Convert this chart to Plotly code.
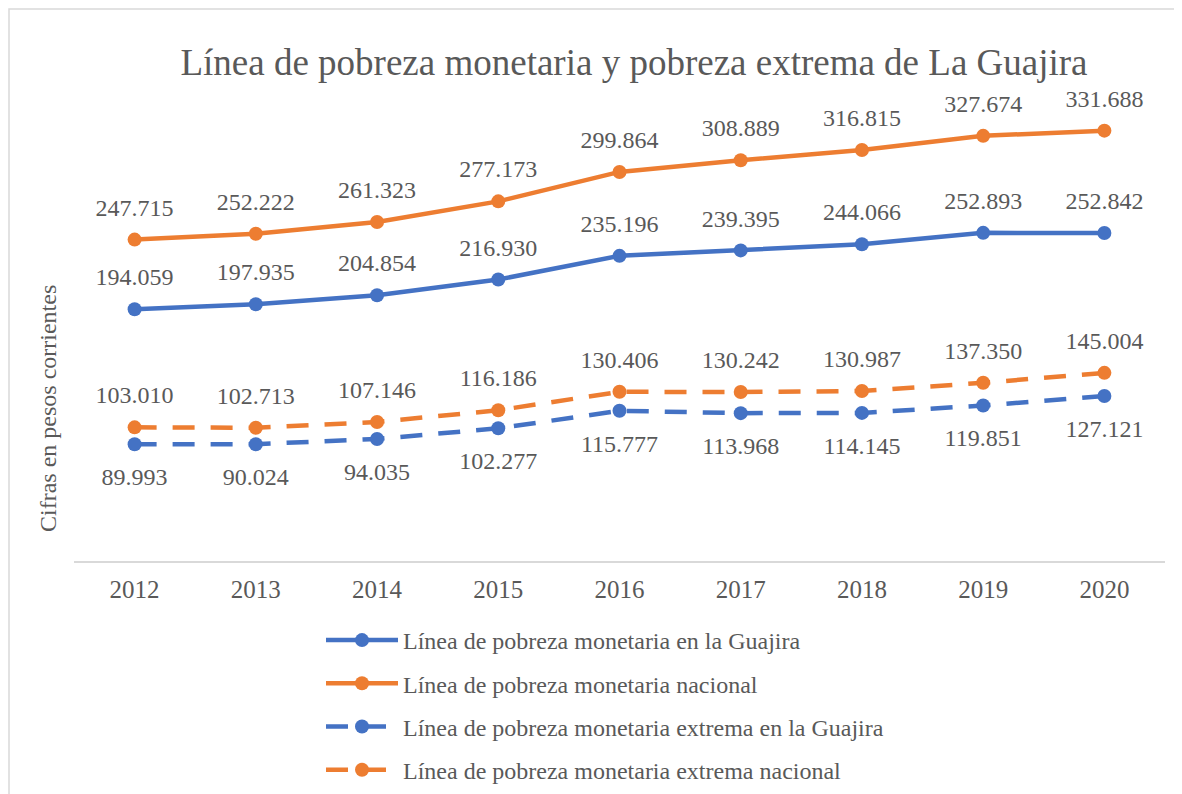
import plotly.graph_objects as go

years = ["2012", "2013", "2014", "2015", "2016", "2017", "2018", "2019", "2020"]
guajira = [194059, 197935, 204854, 216930, 235196, 239395, 244066, 252893, 252842]
nacional = [247715, 252222, 261323, 277173, 299864, 308889, 316815, 327674, 331688]
ext_guajira = [89993, 90024, 94035, 102277, 115777, 113968, 114145, 119851, 127121]
ext_nacional = [103010, 102713, 107146, 116186, 130406, 130242, 130987, 137350, 145004]

names = [
    "Línea de pobreza monetaria en la Guajira",
    "Línea de pobreza monetaria nacional",
    "Línea de pobreza monetaria extrema en la Guajira",
    "Línea de pobreza monetaria extrema nacional",
]

BLUE = "#4472C4"
ORANGE = "#ED7D31"
GREY = "#595959"
FONT = "Liberation Serif"

series = [
    (guajira, names[0], BLUE, "solid", "top center"),
    (nacional, names[1], ORANGE, "solid", "top center"),
    (ext_guajira, names[2], BLUE, "22px,16px", "bottom center"),
    (ext_nacional, names[3], ORANGE, "22px,16px", "top center"),
]

fig = go.Figure()
for i, (vals, nm, col, dash, tpos) in enumerate(series):
    fig.add_trace(go.Scatter(
        x=years, y=vals, name=nm, mode="lines+markers",
        line=dict(color=col, width=4.5, dash=dash),
        marker=dict(color=col, size=14, symbol="circle"),
        legendgroup=f"g{i}", cliponaxis=False,
    ))
# data labels (invisible larger markers push the text a bit further from the points)
for i, (vals, nm, col, dash, tpos) in enumerate(series):
    fig.add_trace(go.Scatter(
        x=years, y=vals, mode="markers+text", showlegend=False, hoverinfo="skip",
        marker=dict(size=27 if tpos.startswith("top") else 35, color="rgba(0,0,0,0)"),
        texttemplate="%{y:,.0f}", textposition=tpos,
        textfont=dict(family=FONT, size=24, color=GREY),
        cliponaxis=False,
    ))

W, H = 1174, 786
L, R, T, B = 66, 17, 34, 233
pw, ph = W - L - R, H - T - B

fig.update_layout(
    width=W, height=H,
    separators=",.",
    paper_bgcolor="white", plot_bgcolor="white",
    margin=dict(l=L, r=R, t=T, b=B, autoexpand=False),
    font=dict(family=FONT, color=GREY),
    title=dict(text="Línea de pobreza monetaria y pobreza extrema de La Guajira",
               x=626 / W, xanchor="center", y=1 - 54 / H, yanchor="middle",
               font=dict(family=FONT, size=37, color=GREY)),
    xaxis=dict(type="category", range=[-0.5, len(years) - 0.5],
               showline=True, linecolor="#D9D9D9", linewidth=1.5,
               showgrid=False, ticks="", ticklabelstandoff=5,
               tickfont=dict(family=FONT, size=25, color=GREY),
               zeroline=False),
    yaxis=dict(range=[0, 400000], visible=False, showgrid=False, zeroline=False),
    showlegend=True,
    legend=dict(x=(313 - L) / pw, xanchor="left", y=(T + ph - 610) / ph, yanchor="top",
                font=dict(family=FONT, size=24, color=GREY),
                traceorder="grouped", tracegroupgap=9, itemwidth=72,
                bgcolor="rgba(0,0,0,0)"),
    annotations=[dict(text="Cifras en pesos corrientes", xref="paper", yref="paper",
                      x=(40 - L) / pw, y=(T + ph - 401) / ph, textangle=-90, showarrow=False,
                      xanchor="center", yanchor="middle",
                      font=dict(family=FONT, size=24, color=GREY))],
    shapes=[dict(type="rect", xref="paper", yref="paper",
                 x0=(1 - L) / pw, x1=1.2, y0=-1.0, y1=(T + ph - 1) / ph,
                 line=dict(color="#D9D9D9", width=1.5), layer="below")],
)

fig.write_html("out.html")
